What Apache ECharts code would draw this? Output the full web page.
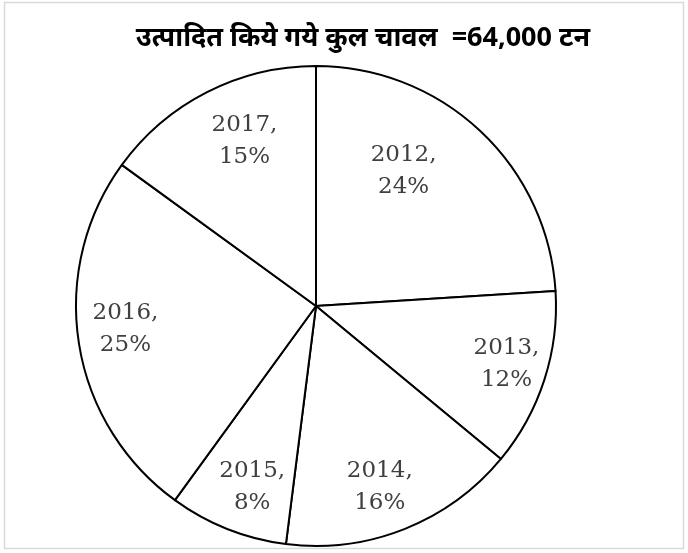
<!DOCTYPE html>
<html>
<head>
<meta charset="utf-8">
<script src="https://cdn.jsdelivr.net/npm/echarts@6/dist/echarts.min.js"></script>
<style>
html,body{margin:0;padding:0;background:#fff;}
#chart{width:688px;height:553px;}
</style>
</head>
<body>
<div id="chart"></div>
<script>
// ---- data ----
const titleText = 'उत्पादित किये गये कुल चावल  =64,000 टन';
const years = ['2012', '2013', '2014', '2015', '2016', '2017'];
const shares = [24, 12, 16, 8, 25, 15];

// ---- label placement (angle clockwise from top in degrees, radius fraction) ----
const labelPolar = [
  [33, 0.67],
  [107, 0.83],
  [160.6, 0.80],
  [199.4, 0.80],
  [263, 0.80],
  [336.6, 0.75]
];
const cx = 316, cy = 306, R = 240;

const chart = echarts.init(document.getElementById('chart'), null, {renderer: 'canvas'});
const option = {
  backgroundColor: '#ffffff',
  animation: false,
  title: {
    text: titleText,
    left: 358,
    top: 20,
    textAlign: 'center',
    textStyle: {
      fontFamily: '"Noto Sans", "Liberation Serif", serif',
      fontWeight: 'bold',
      fontSize: 27,
      color: '#000'
    }
  },
  graphic: [{
    type: 'rect',
    shape: {x: 4.5, y: 2.5, width: 679, height: 546},
    style: {fill: 'none', stroke: '#d9d9d9', lineWidth: 1.5},
    silent: true,
    z: -1
  }],
  series: [{
    type: 'pie',
    center: [cx, cy],
    radius: [0, R],
    startAngle: 90,
    clockwise: true,
    silent: true,
    itemStyle: {color: '#ffffff', borderColor: '#000000', borderWidth: 2},
    label: {
      show: true,
      position: 'inside',
      formatter: p => p.name + ',\n' + p.value + '%',
      fontFamily: '"DejaVu Serif", serif',
      fontSize: 23,
      lineHeight: 32,
      color: '#404040',
      align: 'center'
    },
    labelLayout: function (params) {
      const lp = labelPolar[params.dataIndex];
      const a = lp[0] * Math.PI / 180;
      const r = lp[1] * R;
      return {
        x: cx + r * Math.sin(a),
        y: cy - r * Math.cos(a),
        align: 'center',
        verticalAlign: 'middle'
      };
    },
    labelLine: {show: false},
    data: years.map((y, i) => ({name: y, value: shares[i]}))
  }]
};
chart.setOption(option);
</script>
</body>
</html>
